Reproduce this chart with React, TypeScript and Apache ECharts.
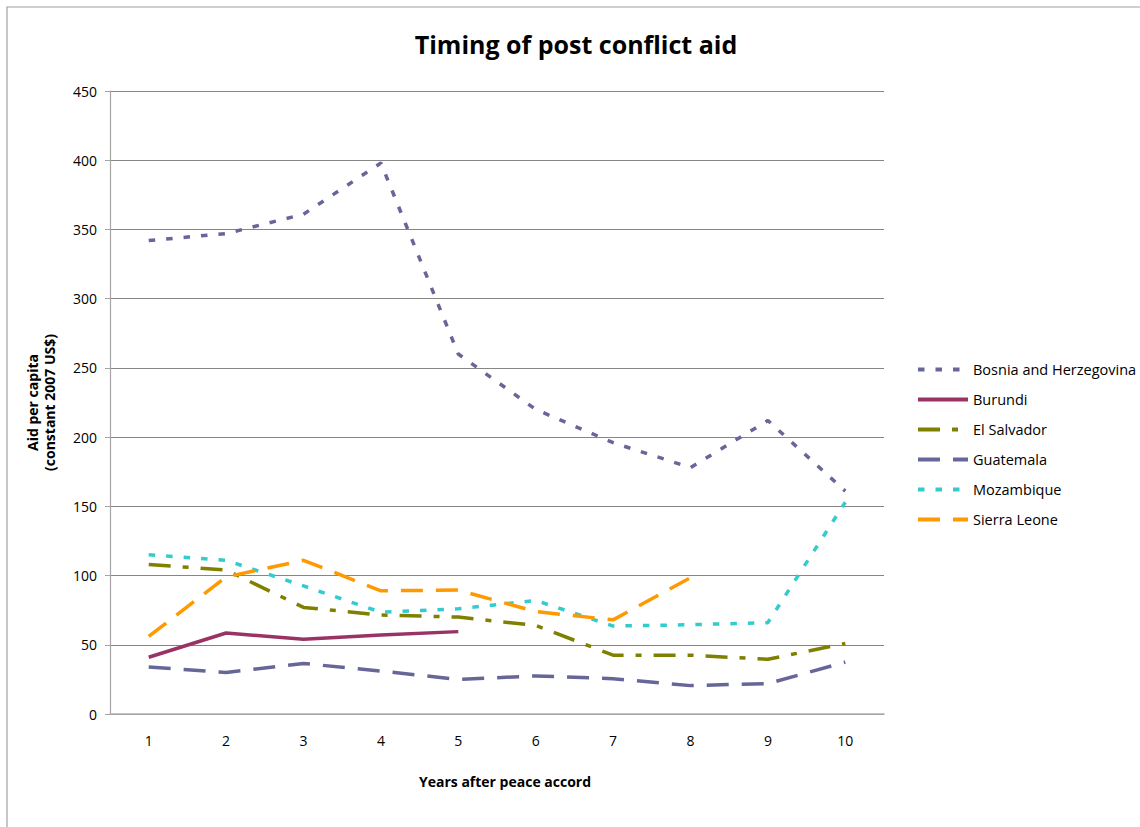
import React, { useEffect, useRef } from "react";
import * as echarts from "echarts";

const years = ["1", "2", "3", "4", "5", "6", "7", "8", "9", "10"];
const bosnia = [342, 347, 361, 398, 260, 220, 196, 178, 212, 161];
const burundi = [41, 58.5, 54, 57, 59.5, null, null, null, null, null];
const elSalvador = [108, 104, 77, 71.5, 70, 64, 42.5, 42.5, 39.5, 51];
const guatemala = [34, 30, 36.5, 31, 25, 27.5, 25.5, 20.5, 22, 37.5];
const mozambique = [115, 111, 92.5, 73.5, 76, 82, 63.5, 64.5, 66, 153];
const sierraLeone = [56, 99, 111, 89, 89.5, 74, 68, 98.5, null, null];

const FONT = "'Open Sans', 'Noto Sans', sans-serif";

export default function App() {
  const ref = useRef<HTMLDivElement>(null);
  useEffect(() => {
    if (!ref.current) return;
    const chart = echarts.init(ref.current, null, { renderer: "svg" });
    const mk = (name: string, data: (number | null)[], color: string, type: any) => ({
      name,
      type: "line",
      data,
      symbol: "none",
      showSymbol: false,
      connectNulls: false,
      lineStyle: { color, width: 3.5, type, cap: "butt" },
      itemStyle: { color },
    });
    chart.setOption({
      animation: false,
      textStyle: { fontFamily: FONT },
      graphic: [
        {
          type: "rect",
          shape: { x: 7, y: 7, width: 1300, height: 1000 },
          style: { fill: "none", stroke: "#a0a0a0", lineWidth: 1.2 },
          silent: true,
        },
        {
          type: "text",
          x: 576,
          y: 44,
          style: {
            text: "Timing of post conflict aid",
            fontFamily: FONT,
            fontSize: 25,
            fontWeight: "bold",
            fill: "#000",
            align: "center",
            verticalAlign: "middle",
          },
        },
      ],
      grid: { left: 110, right: 256, top: 91, bottom: 113, containLabel: false },
      legend: {
        orient: "vertical",
        left: 916,
        top: 362,
        padding: 0,
        itemWidth: 50,
        itemHeight: 14,
        itemGap: 15,
        itemStyle: { opacity: 0, borderWidth: 0 },
        lineStyle: { width: 4 },
        textStyle: { fontFamily: FONT, fontSize: 14.5, color: "#000", lineHeight: 14 },
        data: ["Bosnia and Herzegovina", "Burundi", "El Salvador", "Guatemala", "Mozambique", "Sierra Leone"],
      },
      xAxis: {
        type: "category",
        data: years,
        boundaryGap: true,
        name: "Years after peace accord",
        nameLocation: "middle",
        nameGap: 60,
        nameTextStyle: { fontFamily: FONT, fontSize: 14, fontWeight: "bold", color: "#000", padding: [0, 0, 0, 16] },
        axisLine: { lineStyle: { color: "#b0b0b0", width: 1.5 } },
        axisTick: { show: false },
        axisLabel: { fontFamily: FONT, fontSize: 14, color: "#000", margin: 19 },
        splitLine: { show: false },
      },
      yAxis: {
        type: "value",
        min: 0,
        max: 450,
        interval: 50,
        name: "Aid per capita\n(constant 2007 US$)",
        nameLocation: "middle",
        nameGap: 52,
        nameRotate: 90,
        nameTextStyle: { fontFamily: FONT, fontSize: 14, fontWeight: "bold", color: "#000", lineHeight: 17 },
        axisLine: { show: true, lineStyle: { color: "#a6a6a6", width: 1.2 } },
        axisTick: { show: true, inside: false, length: 5, lineStyle: { color: "#a6a6a6" } },
        axisLabel: { fontFamily: FONT, fontSize: 14, color: "#000", margin: 13 },
        splitLine: { lineStyle: { color: "#868686", width: 1 } },
      },
      series: [
        mk("Bosnia and Herzegovina", bosnia, "#666699", [6.5, 11]),
        mk("Burundi", burundi, "#993366", "solid"),
        mk("El Salvador", elSalvador, "#808000", [22, 12, 6, 12]),
        mk("Guatemala", guatemala, "#666699", [22, 13]),
        mk("Mozambique", mozambique, "#33cccc", [6.5, 11]),
        mk("Sierra Leone", sierraLeone, "#ff9900", [22, 13]),
      ],
    });
    return () => chart.dispose();
  }, []);
  return (
    <div
      ref={ref}
      style={{ position: "fixed", left: 0, top: 0, width: 1140, height: 827, background: "#fff" }}
    />
  );
}
